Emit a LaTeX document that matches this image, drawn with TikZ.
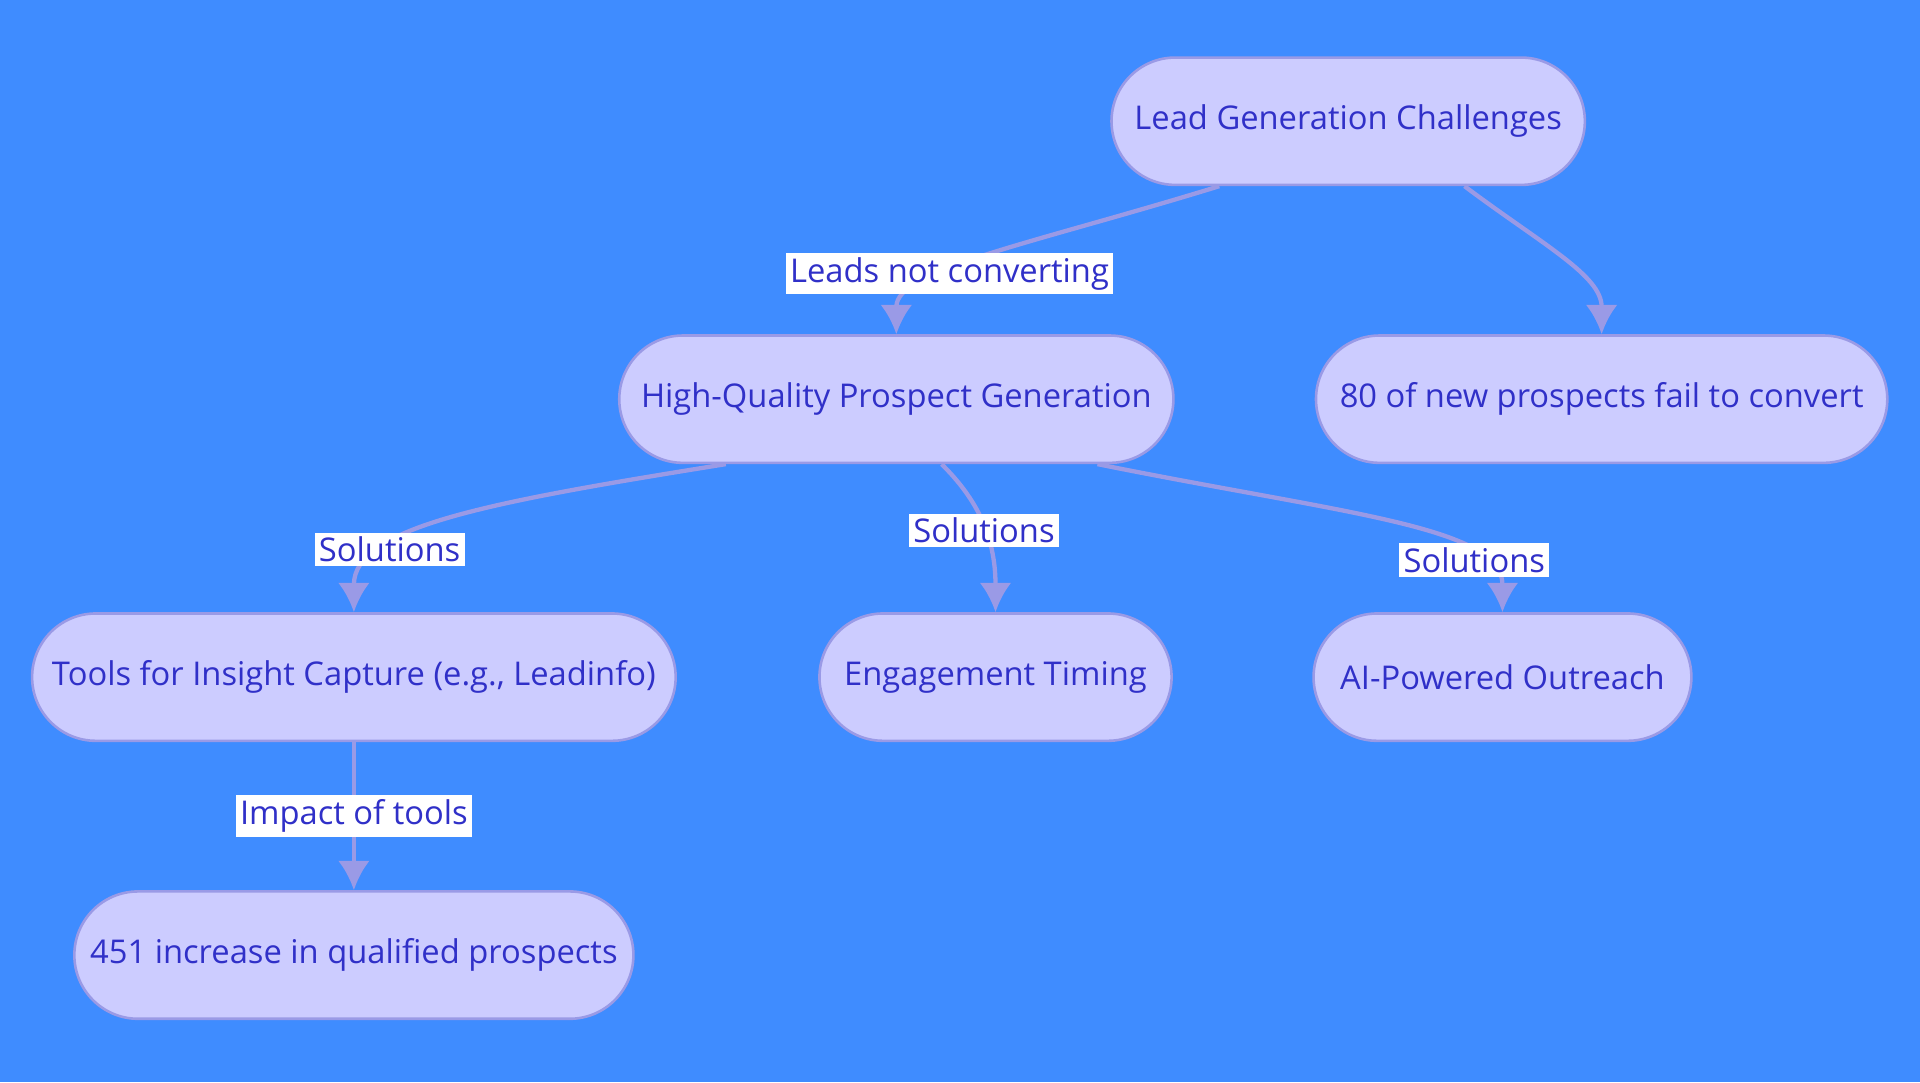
\documentclass[tikz,border=0pt]{standalone}
\usepackage{fontspec}
\setmainfont{Open Sans}
\usetikzlibrary{arrows.meta,shapes.misc}
\definecolor{bgblue}{HTML}{3F8CFF}
\definecolor{boxfill}{HTML}{CCCCFF}
\definecolor{boxline}{HTML}{9A9AE6}
\definecolor{txtblue}{HTML}{3030C8}
\tikzset{
  box/.style={rounded rectangle,fill=boxfill,draw=boxline,line width=0.6pt,
    minimum height=1.04cm,text=txtblue,font=\fontsize{7.6}{9}\selectfont},
  edge/.style={draw=boxline,line width=1pt,-{Latex[length=2.4mm,width=2.6mm]}},
  lbl/.style={fill=white,text=txtblue,inner sep=1pt,font=\fontsize{7.6}{9}\selectfont}
}
\begin{document}
\begin{tikzpicture}
\fill[bgblue] (0,0) rectangle (15.68,-8.84);
\useasboundingbox (0,0) rectangle (15.68,-8.84);

\node[box,minimum width=4.10cm] (lead) at (11.01,-0.99) {Lead Generation Challenges};
\node[box,minimum width=4.76cm] (hq) at (7.32,-3.26) {High-Quality Prospect Generation};
\node[box,minimum width=4.90cm] (fail) at (13.08,-3.26) {80 of new prospects fail to convert};
\node[box,minimum width=5.49cm] (tools) at (2.89,-5.53) {Tools for Insight Capture (e.g., Leadinfo)};
\node[box,minimum width=3.11cm] (timing) at (8.13,-5.53) {Engagement Timing};
\node[box,minimum width=3.32cm] (ai) at (12.27,-5.53) {AI-Powered Outreach};
\node[box,minimum width=4.80cm] (incr) at (2.89,-7.80) {451 increase in qualified prospects};

% edges
\draw[edge] ([xshift=0.36cm]lead.south west) .. controls (8.4,-2.0) and (7.32,-2.2) .. (hq.north)
  node[lbl,pos=0.62] {Leads not converting};
\draw[edge] ([xshift=0.95cm]lead.south) .. controls (12.6,-2.0) and (13.08,-2.25) .. (fail.north);
\draw[edge] ([xshift=0.35cm]hq.south west) .. controls (4.0,-4.1) and (2.89,-4.3) .. (tools.north)
  node[lbl,pos=0.7] {Solutions};
\draw[edge] ([xshift=0.37cm]hq.south) .. controls (7.9,-4.0) and (8.13,-4.3) .. (timing.north)
  node[lbl,pos=0.6] {Solutions};
\draw[edge] ([xshift=-0.1cm]hq.south east) .. controls (11.0,-4.2) and (12.27,-4.3) .. (ai.north)
  node[lbl,pos=0.75] {Solutions};
\draw[edge] (tools.south) -- (incr.north) node[lbl,midway] {Impact of tools};
\end{tikzpicture}
\end{document}
